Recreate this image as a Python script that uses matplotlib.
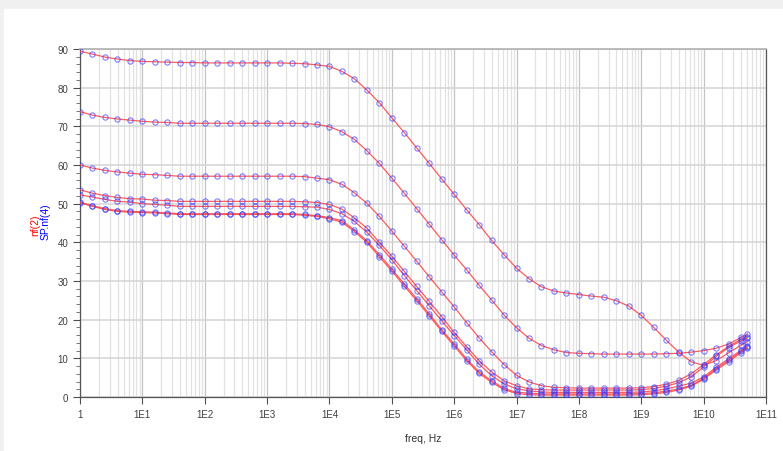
import numpy as np
import matplotlib.pyplot as plt
from matplotlib.patches import Rectangle
from matplotlib.ticker import LogLocator, FixedLocator, MultipleLocator, NullFormatter

plt.rcParams['font.family'] = ['Liberation Sans', 'DejaVu Sans']

# Frequências dos pontos (5 por década, até 5E10)
freq = np.append(np.logspace(0, 10.6, 54), 5e10)

# Curvas nf
nf_a = [89.4, 88.7, 87.9, 87.4, 87.0, 86.8, 86.7, 86.6, 86.5, 86.5,
        86.4, 86.4, 86.4, 86.4, 86.4, 86.4, 86.4, 86.3, 86.2, 85.9,
        85.5, 84.2, 82.3, 79.4, 76.1, 72.2, 68.4, 64.4, 60.4, 56.4,
        52.4, 48.4, 44.6, 40.5, 36.8, 33.3, 30.6, 28.5, 27.4, 26.9,
        26.5, 26.1, 25.8, 24.9, 23.5, 21.1, 18.0, 14.7, 11.6, 9.1,
        8.2, 9.4, 11.4, 13.4, 14.3]
nf_b = [73.8, 72.9, 72.3, 71.9, 71.6, 71.3, 71.1, 71.0, 70.8, 70.8,
        70.8, 70.8, 70.8, 70.8, 70.8, 70.8, 70.8, 70.8, 70.7, 70.5,
        69.9, 68.6, 66.6, 63.7, 60.4, 56.6, 52.7, 48.7, 44.7, 40.7,
        36.7, 32.9, 28.9, 25.1, 21.2, 17.9, 15.2, 13.3, 12.2, 11.5,
        11.3, 11.2, 11.1, 11.1, 11.1, 11.1, 11.1, 11.2, 11.3, 11.6,
        12.0, 12.6, 13.7, 15.4, 16.3]
nf_c = [60.0, 59.2, 58.6, 58.2, 57.9, 57.6, 57.5, 57.3, 57.1, 57.1,
        57.1, 57.1, 57.1, 57.1, 57.1, 57.1, 57.1, 57.1, 57.0, 56.6,
        56.2, 55.0, 52.8, 50.1, 46.7, 42.9, 39.0, 35.1, 31.1, 27.2,
        23.3, 19.2, 15.3, 11.7, 8.4, 5.6, 3.9, 2.9, 2.5, 2.4,
        2.3, 2.3, 2.3, 2.3, 2.3, 2.4, 2.7, 3.3, 4.3, 6.0,
        8.4, 10.9, 13.1, 14.9, 15.6]
nf_d = [53.6, 52.7, 52.1, 51.6, 51.3, 51.2, 50.9, 50.8, 50.6, 50.6,
        50.6, 50.6, 50.6, 50.6, 50.6, 50.6, 50.6, 50.6, 50.5, 50.3,
        49.8, 48.6, 46.3, 43.7, 40.0, 36.4, 32.5, 28.6, 24.7, 20.8,
        16.7, 13.0, 9.4, 6.5, 4.2, 2.9, 2.1, 1.9, 1.8, 1.8,
        1.8, 1.8, 1.8, 1.8, 1.8, 1.9, 2.2, 2.8, 3.7, 5.2,
        7.8, 10.5, 12.8, 14.5, 15.2]
nf_e = [52.3, 51.7, 51.1, 50.6, 50.4, 50.0, 49.8, 49.6, 49.3, 49.3,
        49.3, 49.3, 49.3, 49.3, 49.3, 49.3, 49.3, 49.3, 49.2, 49.1,
        48.5, 47.4, 45.4, 42.6, 39.2, 35.5, 31.4, 27.5, 23.6, 19.7,
        15.9, 12.2, 8.5, 5.5, 3.4, 2.1, 1.6, 1.3, 1.2, 1.2,
        1.2, 1.2, 1.2, 1.2, 1.2, 1.3, 1.6, 2.1, 2.8, 3.6,
        5.2, 7.7, 9.9, 12.1, 13.3]
nf_f1 = [50.4, 49.5, 48.7, 48.2, 48.0, 47.9, 47.8, 47.6, 47.4, 47.4,
         47.4, 47.4, 47.4, 47.4, 47.4, 47.4, 47.4, 47.4, 47.2, 46.9,
         46.4, 45.6, 43.2, 40.4, 36.8, 33.1, 29.2, 25.4, 21.5, 17.4,
         13.7, 9.8, 6.5, 4.2, 2.2, 1.2, 1.0, 0.8, 0.8, 0.8,
         0.8, 0.8, 0.8, 0.8, 0.8, 0.9, 1.1, 1.5, 2.1, 3.0,
         4.8, 7.3, 9.5, 11.8, 12.9]
nf_f2 = [50.2, 49.3, 48.5, 48.0, 47.8, 47.7, 47.6, 47.4, 47.2, 47.2,
         47.2, 47.2, 47.2, 47.2, 47.2, 47.2, 47.2, 47.2, 47.0, 46.7,
         46.1, 45.2, 42.8, 40.0, 36.3, 32.6, 28.7, 24.9, 21.0, 17.0,
         13.2, 9.4, 6.1, 3.8, 1.9, 0.9, 0.6, 0.5, 0.5, 0.5,
         0.5, 0.5, 0.5, 0.5, 0.5, 0.6, 0.8, 1.2, 1.8, 2.8,
         4.6, 7.0, 9.1, 11.5, 12.6]

curvas = [nf_a, nf_b, nf_c, nf_d, nf_e, nf_f1, nf_f2]

fig = plt.figure(figsize=(7.83, 4.52), dpi=100)
# Moldura cinza clara do print
fig.patches.append(Rectangle((0, 0), 1, 1, transform=fig.transFigure, color='#f0f0f0', zorder=-10))
fig.patches.append(Rectangle((4 / 783, 0), 1, 1 - 10 / 452, transform=fig.transFigure, color='white', zorder=-9))

ax = fig.add_axes([80 / 783, 1 - 398 / 452, 686 / 783, 348 / 452])
ax.set_facecolor('none')

for y in curvas:
    ax.plot(freq, y, color='#ff4040', linewidth=0.9, alpha=0.85, zorder=3)
    ax.plot(freq, y, linestyle='none', marker='o', markersize=3.8, markerfacecolor='none',
            markeredgecolor='#3a3aff', markeredgewidth=0.8, alpha=0.65, zorder=4)

ax.set_xscale('log')
ax.set_xlim(1, 1e11)
ax.set_ylim(0, 90)

ax.xaxis.set_major_locator(FixedLocator([10.0 ** i for i in range(12)]))
ax.set_xticklabels(['1'] + ['1E%d' % i for i in range(1, 12)])
ax.xaxis.set_minor_locator(LogLocator(base=10, subs=np.arange(2, 10), numticks=100))
ax.xaxis.set_minor_formatter(NullFormatter())
ax.yaxis.set_major_locator(MultipleLocator(10))
ax.yaxis.set_minor_locator(MultipleLocator(2))

# Grade
ax.grid(True, which='major', axis='x', color='#c4c4c4', linewidth=0.9, zorder=0)
ax.grid(True, which='minor', axis='x', color='#e2e2e2', linewidth=0.9, zorder=0)
ax.grid(True, which='major', axis='y', color='#d4d4d4', linewidth=1.1, zorder=0)

ax.tick_params(axis='both', which='major', labelsize=7, colors='#505050', labelcolor='#404040', length=5, width=0.8)
ax.tick_params(axis='y', which='minor', length=3, width=0.6, colors='#606060')
ax.tick_params(axis='x', which='minor', length=0)
ax.tick_params(axis='x', which='major', pad=4)

for lado in ['left', 'bottom', 'right']:
    ax.spines[lado].set_color('#555555')
    ax.spines[lado].set_linewidth(0.9)
ax.spines['top'].set_color('#b0b0b0')
ax.spines['top'].set_linewidth(1.2)

ax.set_xlabel('freq, Hz', fontsize=7.5, color='#303030', labelpad=10)

# Rótulos do eixo y (dois textos coloridos)
fig.text(35 / 783, 1 - 225 / 452, 'nf(2)', color='red', rotation=90, fontsize=7.5, ha='center', va='center')
fig.text(46 / 783, 1 - 222 / 452, 'SP.nf(4)', color='blue', rotation=90, fontsize=7.5, ha='center', va='center')

plt.savefig('out.png', dpi=100)
